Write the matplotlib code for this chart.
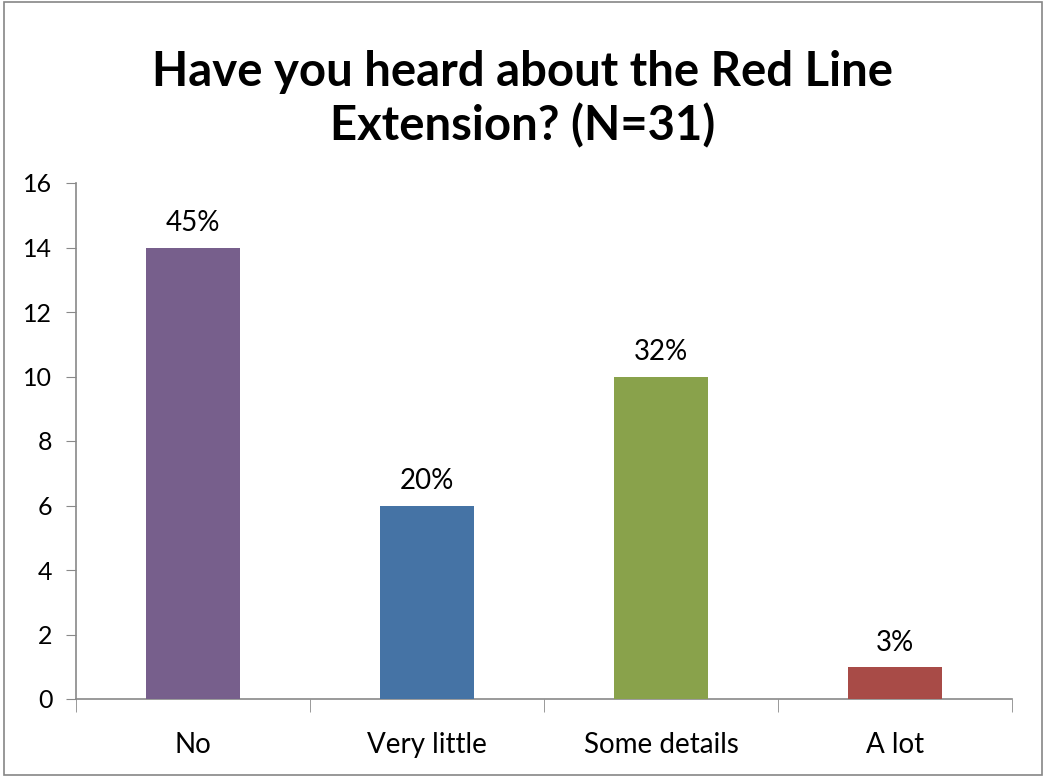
import matplotlib.pyplot as plt
from matplotlib.patches import Rectangle

categories = ["No", "Very little", "Some details", "A lot"]
counts = [14, 6, 10, 1]
pct_labels = ["45%", "20%", "32%", "3%"]
colors = ["#775F8C", "#4573A5", "#89A24B", "#A84B47"]

plt.rcParams['font.family'] = ['Lato', 'DejaVu Sans']

fig = plt.figure(figsize=(10.45, 7.76), dpi=100)
W, H = 1045, 776
ax = fig.add_axes([76 / W, 1 - 699 / H, (1012 - 76) / W, (699 - 183) / H])

x = range(len(categories))
ax.bar(x, counts, width=0.4, color=colors, zorder=3)
for i, (c, lab) in enumerate(zip(counts, pct_labels)):
    ax.annotate(lab, (i, c), xytext=(0, 8), textcoords="offset points",
                ha="center", va="bottom", fontsize=20)

ax.set_xlim(-0.5, len(categories) - 0.5)
ax.set_ylim(0, 16)
ax.set_yticks(range(0, 17, 2))
ax.tick_params(axis='y', labelsize=18, length=7, color="#898989", pad=10)

# category labels centred, ticks between categories
ax.set_xticks(list(x))
ax.set_xticklabels(categories, fontsize=20)
ax.tick_params(axis='x', length=0, pad=24)
ax.set_xticks([i - 0.5 for i in range(len(categories) + 1)], minor=True)
ax.tick_params(axis='x', which='minor', length=9, color="#898989")

for s in ['top', 'right']:
    ax.spines[s].set_visible(False)
for s in ['left', 'bottom']:
    ax.spines[s].set_color("#898989")
    ax.spines[s].set_linewidth(1.2)

fig.text(0.5, 1 - 99 / H, "Have you heard about the Red Line\nExtension? (N=31)",
         ha="center", va="center", fontsize=34, fontweight="bold", linespacing=1.25)

fig.patches.append(Rectangle((4 / W, 1 / H), (1042 - 4) / W, (774 - 1) / H,
                             transform=fig.transFigure, fill=False,
                             edgecolor="#868686", linewidth=1.2))

fig.savefig("out.png", dpi=100)
